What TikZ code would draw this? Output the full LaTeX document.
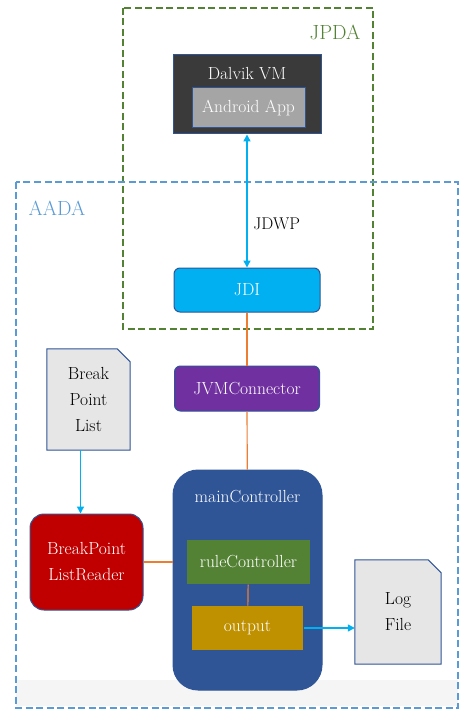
\documentclass[tikz,border=0pt]{standalone}
\usetikzlibrary{arrows.meta}

\definecolor{jpdagreen}{HTML}{548235}
\definecolor{aadablue}{HTML}{5B9BD5}
\definecolor{edgeblue}{HTML}{2F5597}
\definecolor{darkvm}{HTML}{3A3A3A}
\definecolor{appgray}{HTML}{A5A5A5}
\definecolor{jdicyan}{HTML}{00B0F0}
\definecolor{jvmpurple}{HTML}{7030A0}
\definecolor{rulegreen}{HTML}{548235}
\definecolor{outgold}{HTML}{BF9000}
\definecolor{readerred}{HTML}{C00000}
\definecolor{docgray}{HTML}{E7E6E6}
\definecolor{linkorange}{HTML}{ED7D31}

\tikzset{
  box/.style={draw=edgeblue, line width=1pt, text=white, align=center,
    node font={\fontsize{17.5}{26}\selectfont}},
  doc/.style={align=center, node font={\fontsize{17.5}{26}\selectfont}},
  link/.style={draw=linkorange, line width=1.2pt},
  flow/.style={draw=jdicyan, line width=1.5pt, -{Triangle[length=7pt,width=7pt]}},
}

\begin{document}
\begin{tikzpicture}[x=1pt,y=-1pt]

  \useasboundingbox (0,0) rectangle (461,711);

  % bottom band
  \fill[black!4] (16,680) rectangle (458,706);

  % frames
  \draw[jpdagreen, line width=1.8pt, dash pattern=on 7pt off 3.5pt] (123,8) rectangle (373,329);
  \draw[aadablue, line width=1.8pt, dash pattern=on 7pt off 3.5pt] (16,182) rectangle (458,708);
  \node[jpdagreen, node font={\fontsize{20.5}{24}\selectfont}] (jpdatitle) at (335,32) {JPDA};
  \node[aadablue, node font={\fontsize{20.5}{24}\selectfont}] (aadatitle) at (57,208) {AADA};

  % Dalvik VM
  \node[box, fill=darkvm, minimum width=148pt, minimum height=79pt,
    label={[text=white, node font={\fontsize{17.5}{20}\selectfont}, anchor=north, yshift=-7pt]north:Dalvik VM}]
    (dalvik) at (247,94.5) {};
  \node[box, fill=appgray, minimum width=113pt, minimum height=40pt] (app) at (248.5,108) {Android App};

  % JDI and connector
  \node[box, fill=jdicyan, rounded corners=6pt, minimum width=146pt, minimum height=44pt] (jdi) at (247,290) {JDI};
  \node[box, fill=jvmpurple, rounded corners=6pt, minimum width=145pt, minimum height=45pt] (jvm) at (247,388.5) {JVMConnector};

  % mainController
  \node[box, fill=edgeblue, rounded corners=25pt, minimum width=149pt, minimum height=220pt,
    label={[text=white, node font={\fontsize{17.5}{20}\selectfont}, anchor=north, yshift=-15pt]north:mainController}]
    (main) at (247.5,580) {};
  \node[box, draw=none, fill=rulegreen, minimum width=123pt, minimum height=44pt] (rule) at (248.5,562) {ruleController};
  \node[box, draw=none, fill=outgold, minimum width=111pt, minimum height=44pt] (output) at (247.5,628) {output};

  % reader
  \node[box, fill=readerred, rounded corners=14pt, minimum width=113pt, minimum height=96pt] (reader) at (86.5,562) {BreakPoint\\ListReader};

  % documents
  \node[doc, minimum width=83pt, minimum height=101pt] (bplist) at (88.5,399.5) {};
  \filldraw[fill=docgray, draw=edgeblue, line width=1pt]
    (bplist.south west) -- (bplist.north west) -- ([xshift=-13pt]bplist.north east)
    -- ([yshift=-13pt]bplist.north east) -- (bplist.south east) -- cycle;
  \node[doc] at (bplist) {Break\\Point\\List};

  \node[doc, minimum width=86pt, minimum height=104pt] (logfile) at (398,612) {};
  \filldraw[fill=docgray, draw=edgeblue, line width=1pt]
    (logfile.south west) -- (logfile.north west) -- ([xshift=-13pt]logfile.north east)
    -- ([yshift=-13pt]logfile.north east) -- (logfile.south east) -- cycle;
  \node[doc] at (logfile) {Log\\File};

  % links
  \draw[flow, {Triangle[length=7pt,width=7pt]}-{Triangle[length=7pt,width=7pt]}] (dalvik.south) -- (jdi.north)
    node[pos=0.67, right, text=black, node font={\fontsize{17}{20}\selectfont}] {JDWP};
  \draw[link] (jdi) -- (jvm);
  \draw[link] (jvm) -- (main);
  \draw[link] (rule) -- (output);
  \draw[link] (reader.east) -- (reader.east -| main.west);
  \draw[flow] ([xshift=-8pt]bplist.south) -- ([xshift=-8pt]bplist.south |- reader.north);
  \draw[flow] (output.east) -- (output.east -| logfile.west);

\end{tikzpicture}
\end{document}
